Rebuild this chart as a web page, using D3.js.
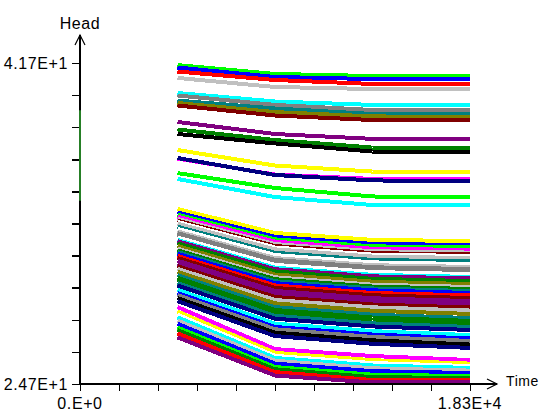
<!DOCTYPE html>
<html>
<head>
<meta charset="utf-8">
<script src="https://cdn.jsdelivr.net/npm/d3@7"></script>
<style>
  html, body { margin: 0; padding: 0; background: #fff; }
  svg { display: block; }
  text { font-family: "Liberation Sans", Arial, sans-serif; fill: #000; }
</style>
</head>
<body>
<svg id="chart" width="541" height="412"></svg>
<script>
// ---- data ----
const xDomain = [0, 18300];
const yDomain = [24.7, 41.7];
const xTickLabels = ["0.E+0", "1.83E+4"];
const yTickLabels = ["2.47E+1", "4.17E+1"];
const xTickCount = 10;
const yTickCount = 10;
const xTitle = "Time";
const yTitle = "Head";

const times = [4575, 9150, 13725, 18300];

// upper group of observation heads
const colorsUpper = ["#00FF00","#0000FF","#FF0000","#C0C0C0","#00FFFF","#808080","#008080","#808000","#800000",
  "#800080","#008000","#000000","#FFFF00","#FF00FF","#000080","#00FF00","#00FFFF"];
const headsUpper = [
  [41.59, 41.12, 41.01, 41.01],
  [41.46, 40.96, 40.85, 40.84],
  [41.25, 40.80, 40.59, 40.57],
  [40.91, 40.43, 40.32, 40.31],
  [40.11, 39.66, 39.48, 39.46],
  [39.98, 39.48, 39.21, 39.20],
  [39.71, 39.29, 39.00, 38.98],
  [39.58, 39.10, 38.87, 38.84],
  [39.45, 38.92, 38.68, 38.67],
  [38.58, 37.94, 37.68, 37.66],
  [38.18, 37.62, 37.22, 37.21],
  [37.94, 37.44, 37.01, 36.99],
  [37.09, 36.27, 35.95, 35.94],
  [36.64, 35.79, 35.56, 35.54],
  [36.67, 35.77, 35.48, 35.45],
  [35.87, 35.08, 34.63, 34.60],
  [35.56, 34.60, 34.18, 34.16]
];

// lower group of observation heads
const colorsLower = ["#FFFF00","#0000FF","#00FF00","#FF00FF","#C0C0C0","#800000","#FFFFFF","#C0C0C0","#008080","#FFFFFF",
  "#C0C0C0","#808080","#808080","#FFFFFF","#00FFFF","#800080","#008000","#808000","#C0C0C0","#008000",
  "#008080","#0000FF","#FF0000","#800000","#800080","#800080","#800000","#C0C0C0","#808000","#008080",
  "#008000","#008000","#008080","#000080","#00FFFF","#0000FF","#808080","#000000","#000080",
  "#FF00FF","#FFFF00","#FFFFFF","#00FFFF","#C0C0C0","#0000FF","#00FF00","#008000","#FF0000","#800080"];
const headsLower = [
  [33.97, 32.70, 32.33, 32.27],
  [33.79, 32.49, 32.12, 32.06],
  [33.67, 32.36, 31.99, 31.93],
  [33.56, 32.24, 31.86, 31.80],
  [33.44, 32.11, 31.73, 31.66],
  [33.35, 32.01, 31.63, 31.56],
  [33.28, 31.93, 31.55, 31.48],
  [33.19, 31.83, 31.45, 31.37],
  [33.03, 31.65, 31.27, 31.19],
  [32.92, 31.53, 31.14, 31.05],
  [32.78, 31.37, 30.99, 30.90],
  [32.69, 31.27, 30.88, 30.79],
  [32.60, 31.17, 30.78, 30.68],
  [32.46, 31.01, 30.63, 30.52],
  [32.33, 30.86, 30.48, 30.37],
  [32.26, 30.78, 30.40, 30.29],
  [32.15, 30.66, 30.27, 30.15],
  [32.01, 30.50, 30.12, 29.99],
  [31.87, 30.35, 29.96, 29.84],
  [31.78, 30.25, 29.86, 29.73],
  [31.69, 30.14, 29.76, 29.62],
  [31.60, 30.04, 29.66, 29.52],
  [31.48, 29.92, 29.52, 29.39],
  [31.37, 29.79, 29.40, 29.25],
  [31.23, 29.63, 29.24, 29.09],
  [31.05, 29.43, 29.04, 28.88],
  [30.94, 29.31, 28.91, 28.75],
  [30.80, 29.15, 28.76, 28.59],
  [30.64, 28.97, 28.58, 28.41],
  [30.46, 28.77, 28.37, 28.19],
  [30.32, 28.62, 28.22, 28.04],
  [30.19, 28.46, 28.06, 27.88],
  [30.05, 28.31, 27.91, 27.72],
  [29.92, 28.16, 27.75, 27.56],
  [29.69, 27.90, 27.50, 27.29],
  [29.52, 27.72, 27.32, 27.11],
  [29.41, 27.60, 27.19, 26.98],
  [29.25, 27.42, 27.01, 26.79],
  [29.09, 27.24, 26.83, 26.61],
  [28.78, 26.55, 26.18, 25.97],
  [28.54, 26.35, 25.96, 25.78],
  [28.37, 26.19, 25.81, 25.65],
  [28.23, 26.08, 25.68, 25.55],
  [28.06, 25.93, 25.53, 25.41],
  [27.89, 25.78, 25.38, 25.28],
  [27.69, 25.60, 25.19, 25.12],
  [27.55, 25.48, 25.06, 25.02],
  [27.38, 25.33, 24.91, 24.89],
  [27.17, 25.15, 24.78, 24.78]
];

// short vertical trace drawn at time zero
const zeroTraceTimes = [0, 0];
const zeroTraceHeads = [39.2, 34.4];
const zeroTraceColor = "#33AA33";

// ---- drawing ----
const svg = d3.select("#chart");
const x = d3.scaleLinear().domain(xDomain).range([80, 470]);
const y = d3.scaleLinear().domain(yDomain).range([384, 63]);

const line = d3.line()
  .x(d => x(d[0]))
  .y(d => y(d[1]));

const series = [];
headsUpper.forEach((h, i) => series.push({ color: colorsUpper[i], pts: times.map((t, j) => [t, h[j]]) }));
headsLower.forEach((h, i) => series.push({ color: colorsLower[i], pts: times.map((t, j) => [t, h[j]]) }));

svg.append("g")
  .selectAll("path")
  .data(series)
  .join("path")
  .attr("d", d => line(d.pts))
  .attr("fill", "none")
  .attr("stroke", d => d.color)
  .attr("stroke-width", 4)
  .attr("stroke-linejoin", "bevel")
  .attr("shape-rendering", "crispEdges");

// axes
const xAxis = d3.axisBottom(x).tickValues(d3.range(0, xTickCount + 1).map(i => xDomain[0] + i * (xDomain[1] - xDomain[0]) / xTickCount))
  .tickSize(7).tickFormat("");
const yAxis = d3.axisLeft(y).tickValues(d3.range(0, yTickCount + 1).map(i => yDomain[0] + i * (yDomain[1] - yDomain[0]) / yTickCount))
  .tickSize(8).tickFormat("");

const gx = svg.append("g").attr("transform", `translate(0,${y(yDomain[0])})`).call(xAxis);
gx.select(".domain").remove();
gx.selectAll("line").attr("stroke", "#000").attr("stroke-width", 1.5).attr("shape-rendering", "crispEdges");

const gy = svg.append("g").attr("transform", `translate(${x(xDomain[0])},0)`).call(yAxis);
gy.select(".domain").remove();
gy.selectAll("line").attr("stroke", "#000").attr("stroke-width", 1.5).attr("shape-rendering", "crispEdges");

const x0 = x(xDomain[0]), y0 = y(yDomain[0]);
// axis lines with arrows
svg.append("line").attr("x1", x0).attr("y1", y0).attr("x2", 497).attr("y2", y0)
  .attr("stroke", "#000").attr("stroke-width", 1.5).attr("shape-rendering", "crispEdges");
svg.append("line").attr("x1", x0).attr("y1", y0).attr("x2", x0).attr("y2", 35)
  .attr("stroke", "#000").attr("stroke-width", 1.5).attr("shape-rendering", "crispEdges");
svg.append("path").attr("d", `M${497 - 10},${y0 - 5}L497,${y0}L${497 - 10},${y0 + 5}`)
  .attr("fill", "none").attr("stroke", "#000").attr("stroke-width", 1.2);
svg.append("path").attr("d", `M${x0 - 5},45L${x0},35L${x0 + 5},45`)
  .attr("fill", "none").attr("stroke", "#000").attr("stroke-width", 1.2);

// zero-time trace on the axis
svg.append("path")
  .attr("d", line(zeroTraceTimes.map((t, i) => [t, zeroTraceHeads[i]])))
  .attr("stroke", zeroTraceColor).attr("stroke-width", 1.5).attr("fill", "none");

// labels
const lab = (tx, ty, anchor, size, str) => svg.append("text").attr("x", tx).attr("y", ty)
  .attr("text-anchor", anchor).style("font-size", size + "px").style("letter-spacing", "0.6px").text(str);
lab(68, y(yDomain[1]) + 6, "end", 16, yTickLabels[1]);
lab(68, y(yDomain[0]) + 6, "end", 16, yTickLabels[0]);
lab(x(xDomain[0]), 409, "middle", 16, xTickLabels[0]);
lab(x(xDomain[1]), 409, "middle", 16, xTickLabels[1]);
lab(506, y0 + 2, "start", 14, xTitle);
lab(x0, 29, "middle", 16, yTitle);
</script>
</body>
</html>
